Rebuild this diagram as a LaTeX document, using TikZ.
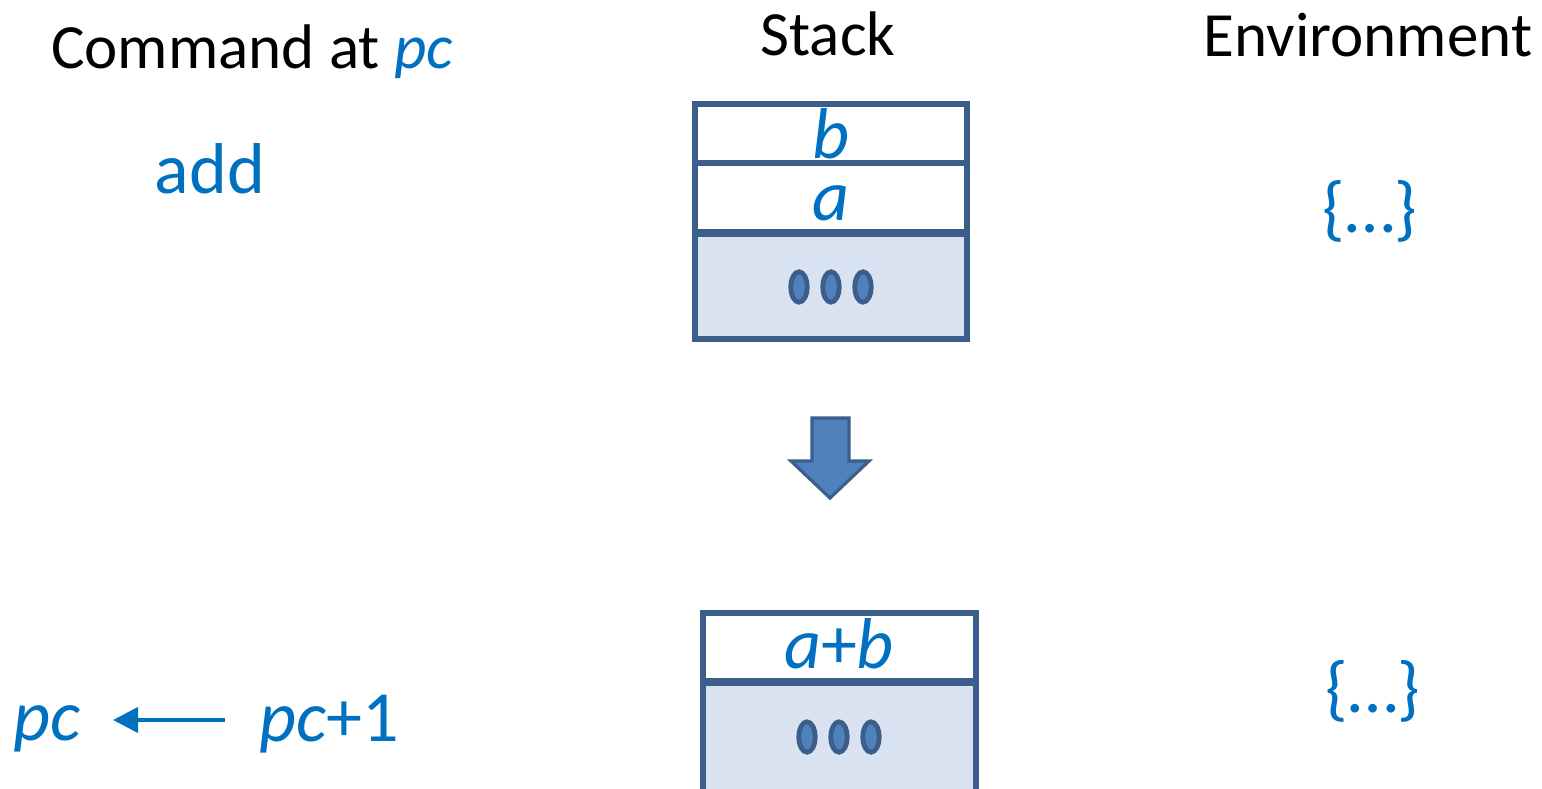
\documentclass[tikz,border=0pt]{standalone}
\usepackage{fontspec}
\setmainfont{Carlito}
\usetikzlibrary{shapes.geometric,arrows.meta}
\definecolor{txtblue}{RGB}{0,112,192}
\definecolor{edge}{RGB}{59,94,138}
\definecolor{dotfill}{RGB}{79,129,189}
\definecolor{stackfill}{RGB}{216,226,241}
\begin{document}
\begin{tikzpicture}[x=0.5pt,y=-0.5pt,
  hdr/.style={font=\fontsize{31.5}{36}\selectfont, anchor=base, inner sep=0pt},
  big/.style={font=\fontsize{36}{40}\selectfont, text=txtblue, anchor=base, inner sep=0pt},
  cell/.style={draw=edge, line width=2.6pt, fill=white},
  deep/.style={draw=edge, line width=2.6pt, fill=stackfill},
  divider/.style={draw=edge, line width=3.8pt},
  stackdot/.style={draw=edge, line width=2.4pt, fill=dotfill, ellipse, minimum width=8.2pt, minimum height=15.2pt, inner sep=0pt},
  bigarrow/.style={draw=edge, line width=1.6pt, fill=dotfill, line join=miter},
  pcarrow/.style={draw=txtblue, line width=2pt, -{Triangle[length=12.5pt,width=12.5pt]}}
]
\clip (0,0) rectangle (1542,788);
\fill[white] (0,0) rectangle (1542,788);

% headers
\node[hdr] (hcmd) at (252,68) {Command at {\color{txtblue}\itshape pc}};
\node[hdr] (hstack) at (828,55) {Stack};
\node[hdr] (henv) at (1368,56) {Environment};

% top state
\node[big] (add) at (210,193) {add};
\node[big] (env1) at (1370,232) {\{…\}};

\draw[deep] (695,233) rectangle (967,339);
\draw[cell] (695,163) rectangle (967,233);
\draw[cell] (695,104) rectangle (967,163);
\draw[divider] (695,233) -- (967,233);
\node[big, text depth=0pt] (lb) at (831,158) {\itshape b};
\node[big, text height=0.45em, text depth=0pt] (la) at (831,220) {\itshape a};
\node[stackdot] (d1) at (799,287) {};
\node[stackdot] (d2) at (831,287) {};
\node[stackdot] (d3) at (863,287) {};

% transition arrow
\draw[bigarrow] (812,418) -- (849,418) -- (849,461) -- (869,461) -- (830,498) -- (791,461) -- (812,461) -- cycle;

% bottom state
\draw[deep] (703,682) rectangle (976,820);
\draw[cell] (703,613) rectangle (976,682);
\draw[divider] (703,682) -- (976,682);
\node[big] (lab) at (839,668) {\itshape a\upshape+\itshape b};
\node[stackdot] (e1) at (807,737) {};
\node[stackdot] (e2) at (839,737) {};
\node[stackdot] (e3) at (871,737) {};

\node[big] (env2) at (1373,712) {\{…\}};

\node[big] (pc) at (47,740) {\itshape pc};
\node[big] (pc1) at (329,741) {{\itshape pc}+1};
\coordinate (arrS) at (225,720);
\coordinate (arrE) at (113,720);
\draw[pcarrow] (arrS) -- (arrE);
\end{tikzpicture}
\end{document}
